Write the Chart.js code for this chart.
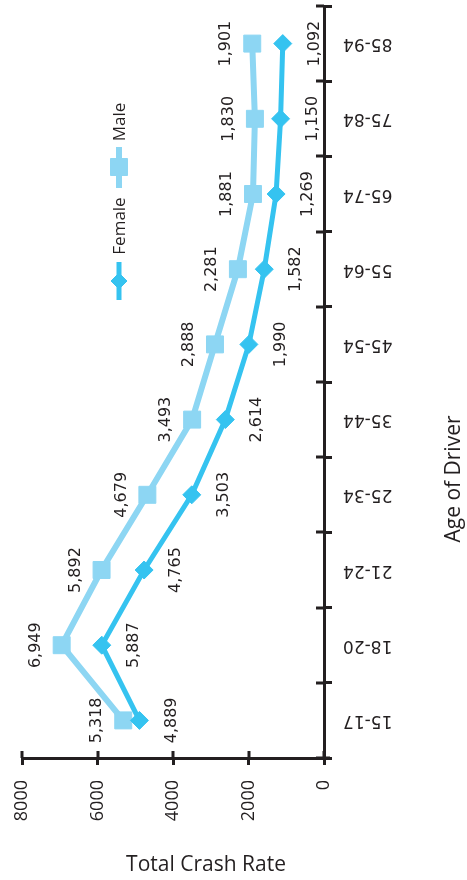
<!DOCTYPE html>
<html>
<head>
<meta charset="utf-8">
<script src="https://cdn.jsdelivr.net/npm/chart.js@4.4.1/dist/chart.umd.min.js"></script>
<style>
  html, body { margin: 0; padding: 0; background: #fff; }
  #wrap { width: 467px; height: 880px; }
</style>
</head>
<body>
<div id="wrap"><canvas id="myChart" width="467" height="880"></canvas></div>
<script>
// crash rate per age group
const ageGroups = ["15-17", "18-20", "21-24", "25-34", "35-44", "45-54", "55-64", "65-74", "75-84", "85-94"];
const femaleRates = [4889, 5887, 4765, 3503, 2614, 1990, 1582, 1269, 1150, 1092];
const maleRates = [5318, 6949, 5892, 4679, 3493, 2888, 2281, 1881, 1830, 1901];
const rateTicks = [0, 2000, 4000, 6000, 8000];

const ink = "#231f20";
const femaleColor = "#35c3f0";
const maleColor = "#8dd6f3";
const sansFont = "'Open Sans', 'DejaVu Sans', sans-serif";
const numFont = "'DejaVu Sans', sans-serif";

// value labels, turned to read bottom-to-top
const labelShift = { Female: 32, Male: -26 };
const valueLabels = {
  id: "valueLabels",
  afterDatasetsDraw(chart) {
    let ctx = chart.ctx;
    ctx.save();
    ctx.font = "16px " + numFont;
    ctx.fillStyle = ink;
    ctx.textAlign = "center";
    ctx.textBaseline = "middle";
    chart.data.datasets.forEach((ds, i) => {
      let meta = chart.getDatasetMeta(i);
      meta.data.forEach((pt, j) => {
        ctx.save();
        ctx.translate(pt.x + labelShift[ds.label], pt.y);
        ctx.rotate(-Math.PI / 2);
        ctx.fillText(ds.data[j].toLocaleString("en-US"), 0, 0);
        ctx.restore();
      });
    });
    ctx.restore();
  },
};

// tick marks cross the axis lines, so add the inner half
const innerTicks = {
  id: "innerTicks",
  afterDraw(chart) {
    let ctx = chart.ctx;
    let xs = chart.scales.x;
    let ys = chart.scales.y;
    ctx.save();
    ctx.strokeStyle = ink;
    ctx.lineWidth = 3;
    ctx.beginPath();
    xs.ticks.forEach((t) => {
      let px = Math.round(xs.getPixelForValue(t.value));
      ctx.moveTo(px, xs.top);
      ctx.lineTo(px, xs.top - 7);
    });
    for (let i = 0; i <= ageGroups.length; i++) {
      let py = Math.round(ys.getPixelForValue(i - 0.5));
      ctx.moveTo(ys.left, py);
      ctx.lineTo(ys.left - 8, py);
    }
    // axis line runs a little past the corner
    ctx.moveTo(ys.left, xs.top);
    ctx.lineTo(ys.left + 6, xs.top);
    ctx.stroke();
    ctx.restore();
  },
};

// legend and axis titles, drawn turned like the rest of the figure
const sideText = {
  id: "sideText",
  afterDraw(chart) {
    let ctx = chart.ctx;
    let spots = [
      { from: 300, to: 262, mark: 281, text: 226, r: 8 },
      { from: 188, to: 147, mark: 167, text: 122, r: 12 },
    ];
    let lx = 119;
    chart.data.datasets.forEach((ds, i) => {
      let s = spots[i];
      ctx.save();
      ctx.strokeStyle = ds.borderColor;
      ctx.fillStyle = ds.borderColor;
      ctx.lineWidth = ds.borderWidth;
      ctx.beginPath();
      ctx.moveTo(lx, s.from);
      ctx.lineTo(lx, s.to);
      ctx.stroke();
      ctx.lineWidth = 1;
      Chart.helpers.drawPoint(ctx, { pointStyle: ds.pointStyle, radius: s.r, borderWidth: 1, rotation: 0 }, lx, s.mark);
      ctx.fillStyle = ink;
      ctx.font = "17px " + sansFont;
      ctx.textAlign = "center";
      ctx.textBaseline = "alphabetic";
      ctx.translate(lx + 6, s.text);
      ctx.rotate(-Math.PI / 2);
      ctx.fillText(ds.label, 0, 0);
      ctx.restore();
    });

    ctx.save();
    ctx.fillStyle = ink;
    ctx.font = "21px " + sansFont;
    ctx.textAlign = "center";
    ctx.textBaseline = "alphabetic";
    ctx.fillText("Total Crash Rate", 206, 871);
    ctx.translate(460, 479);
    ctx.rotate(-Math.PI / 2);
    ctx.fillText("Age of Driver", 0, 0);
    ctx.restore();
  },
};

let ctx = document.getElementById("myChart");
let theChart = new Chart(ctx, {
  type: "line",
  data: {
    labels: ageGroups,
    datasets: [
      {
        label: "Female",
        data: femaleRates,
        borderColor: femaleColor,
        backgroundColor: femaleColor,
        borderWidth: 5,
        pointStyle: "rectRot",
        pointRadius: 9,
        pointBorderWidth: 1,
        tension: 0,
      },
      {
        label: "Male",
        data: maleRates,
        borderColor: maleColor,
        backgroundColor: maleColor,
        borderWidth: 6,
        pointStyle: "rect",
        pointRadius: 12,
        pointBorderWidth: 1,
        tension: 0,
      },
    ],
  },
  options: {
    indexAxis: "y",
    responsive: false,
    animation: false,
    layout: { autoPadding: false, padding: { left: 22, top: 6, right: 0, bottom: 0 } },
    plugins: {
      legend: { display: false },
      tooltip: { enabled: false },
    },
    scales: {
      x: {
        type: "linear",
        position: "bottom",
        reverse: true,
        min: 0,
        max: 8000,
        afterBuildTicks: (s) => {
          s.ticks = rateTicks.map((v) => ({ value: v }));
        },
        afterFit: (s) => {
          s.height = 122;
          s.paddingLeft = 0;
          s.paddingRight = 0;
        },
        border: { display: true, color: ink, width: 3 },
        grid: { drawOnChartArea: false, drawTicks: true, tickLength: 7, color: ink, lineWidth: 3 },
        ticks: {
          minRotation: 90,
          maxRotation: 90,
          padding: 15,
          color: ink,
          font: { family: sansFont, size: 18 },
          callback: (v) => String(v),
        },
      },
      y: {
        type: "category",
        position: "right",
        reverse: true,
        offset: true,
        // the upside-down labels confuse the automatic sizing, so set it here
        afterFit: (s) => {
          s.width = 143;
          s.paddingTop = 0;
          s.paddingBottom = 0;
        },
        border: { display: true, color: ink, width: 3 },
        grid: { offset: true, drawOnChartArea: false, drawTicks: true, tickLength: 8, color: ink, lineWidth: 3 },
        ticks: {
          minRotation: 180,
          maxRotation: 180,
          crossAlign: "center",
          padding: 11,
          autoSkip: false,
          color: ink,
          font: { family: numFont, size: 17 },
        },
      },
    },
  },
  plugins: [valueLabels, innerTicks, sideText],
});
</script>
</body>
</html>
